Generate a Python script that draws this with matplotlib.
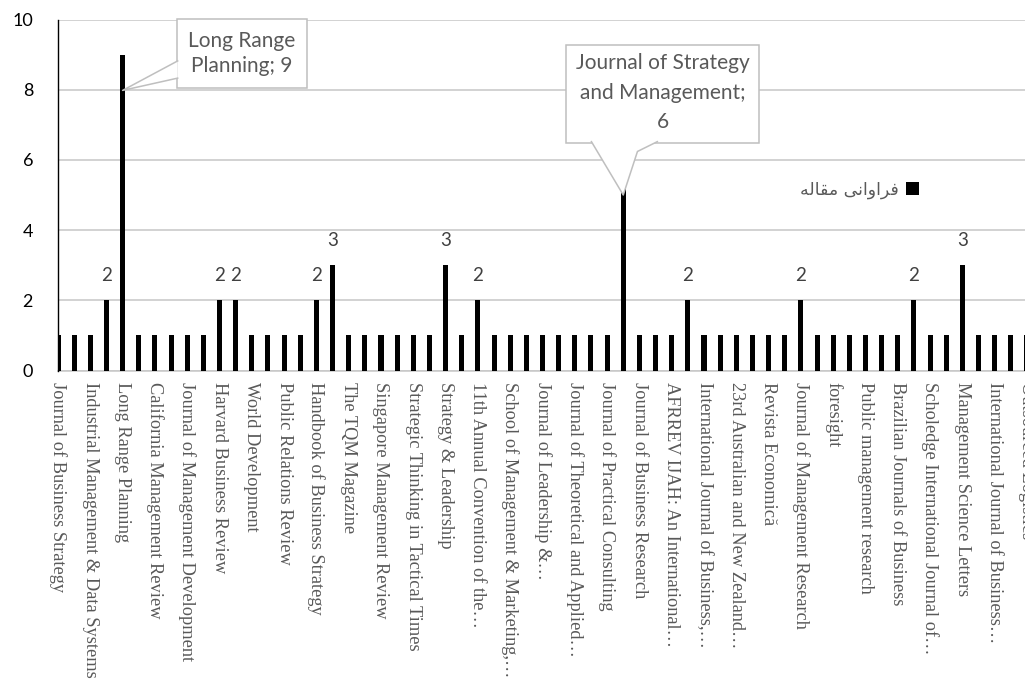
import matplotlib
matplotlib.use("Agg")
import matplotlib.pyplot as plt
from matplotlib.patches import Rectangle, Polygon
from matplotlib.lines import Line2D

# ---------------- data ----------------
values = [1, 1, 1, 2, 9, 1, 1, 1, 1, 1,
          2, 2, 1, 1, 1, 1, 2, 3, 1, 1,
          1, 1, 1, 1, 3, 1, 2, 1, 1, 1,
          1, 1, 1, 1, 1, 6, 1, 1, 1, 2,
          1, 1, 1, 1, 1, 1, 2, 1, 1, 1,
          1, 1, 1, 2, 1, 1, 3, 1, 1, 1,
          1]

# every other category is labelled on the axis
tick_labels = [
    "Journal of Business Strategy",
    "Industrial Management & Data Systems",
    "Long Range Planning",
    "California Management Review",
    "Journal of Management Development",
    "Harvard Business Review",
    "World Development",
    "Public Relations Review",
    "Handbook of Business Strategy",
    "The TQM Magazine",
    "Singapore Management Review",
    "Strategic Thinking in Tactical Times",
    "Strategy & Leadership",
    "11th Annual Convention of the\u2026",
    "School of Management & Marketing,\u2026",
    "Journal of Leadership &\u2026",
    "Journal of Theoretical and Applied\u2026",
    "Journal of Practical Consulting",
    "Journal of Business Research",
    "AFRREV IJAH: An International\u2026",
    "International Journal of Business,\u2026",
    "23rd Australian and New Zealand\u2026",
    "Revista Economic\u0103",
    "Journal of Management Research",
    "foresight",
    "Public management research",
    "Brazilian Journals of Business",
    "Scholedge International Journal of\u2026",
    "Management Science Letters",
    "International Journal of Business\u2026",
    "Outsourced Logistics",
]

callout_texts = ["Long Range\nPlanning; 9", "Journal of Strategy\nand Management;\n6"]
callout_index = [4, 35]

# "فراوانی مقاله" written in Arabic presentation forms, visual order
series_name = "\uFEEA\uFEDF\uFE8E\uFED8\uFEE3 \uFBFD\uFEE7\uFE8D\uFEED\uFE8D\uFEAE\uFED3"

# ---------------- figure ----------------
W, H = 1025, 681
fig = plt.figure(figsize=(W / 100, H / 100), dpi=100)
ax = fig.add_axes([58 / W, (H - 370.5) / H, 969 / W, 351 / H])

x = list(range(len(values)))
bars = ax.bar(x, values, width=0.31, color="black", zorder=3)

ax.set_xlim(0, len(values) - 1)
ax.set_ylim(0, 10)
ax.set_yticks(range(0, 11, 2))
ax.yaxis.grid(True, color="#c6c6c6", linewidth=1.1, zorder=0)
ax.set_axisbelow(True)

for s in ["top", "right"]:
    ax.spines[s].set_visible(False)
ax.spines["left"].set_color("black")
ax.spines["left"].set_linewidth(1.0)
ax.spines["left"].set_zorder(4)
ax.spines["bottom"].set_color("#c6c6c6")
ax.spines["bottom"].set_linewidth(1.1)

ax.tick_params(axis="y", length=0, pad=18, labelsize=13, labelcolor="black")
for t in ax.get_yticklabels():
    t.set_family("Lato")

ax.set_xticks(x[::2])
ax.set_xticklabels(tick_labels, rotation=-90, family="Liberation Serif",
                   fontsize=13.2, color="#595959", va="top", ha="center")
ax.tick_params(axis="x", length=0, pad=8)

# data labels on the 2s and 3s
for i, v in enumerate(values):
    if v in (2, 3):
        ax.annotate(str(v), (i, v), xytext=(0, 18), textcoords="offset points",
                    ha="center", va="center", fontsize=13.5, family="Lato",
                    color="#404040", zorder=6)

# callouts (boxes with pointers), positioned relative to their bars
edge = "#bfbfbf"
# Long Range Planning callout
i0 = callout_index[0]
bx0, bx1, by0, by1 = i0 + 3.36, i0 + 11.4, 8.05, 10.0
ax.add_patch(Rectangle((bx0, by0), bx1 - bx0, by1 - by0, facecolor="white",
                       edgecolor=edge, linewidth=1.1, zorder=7, clip_on=False))
ptr = [(bx0 + 0.05, 8.82), (i0, values[i0] - 1.02), (bx0 + 0.05, 8.33)]
ax.add_patch(Polygon(ptr, closed=True, facecolor="white", edgecolor="none", zorder=8))
ax.add_line(Line2D([p[0] for p in ptr], [p[1] for p in ptr], color=edge,
                   linewidth=1.1, zorder=9))
ax.text((bx0 + bx1) / 2, (by0 + by1) / 2, callout_texts[0], ha="center",
        va="center", fontsize=15, family="Lato", color="#595959", zorder=10,
        linespacing=1.3)

# Journal of Strategy and Management callout
i1 = callout_index[1]
cx0, cx1, cy0, cy1 = i1 - 3.52, i1 + 8.42, 6.49, 9.27
ax.add_patch(Rectangle((cx0, cy0), cx1 - cx0, cy1 - cy0, facecolor="white",
                       edgecolor=edge, linewidth=1.1, zorder=7, clip_on=False))
ptr2 = [(i1 - 1.97, cy0 + 0.03), (i1, values[i1] - 1.0),
        (i1 + 0.88, 6.24), (i1 + 2.11, cy0 + 0.03)]
ax.add_patch(Polygon(ptr2, closed=True, facecolor="white", edgecolor="none", zorder=8))
ax.add_line(Line2D([p[0] for p in ptr2], [p[1] for p in ptr2], color=edge,
                   linewidth=1.1, zorder=9))
ax.text((cx0 + cx1) / 2, (cy0 + cy1) / 2 + 0.03, callout_texts[1], ha="center",
        va="center", fontsize=15, family="Lato", color="#595959", zorder=10,
        linespacing=1.6)

# legend: key on the right of the (RTL) text
leg = ax.legend([bars], [series_name], loc="center right",
                bbox_to_anchor=((919 - 58) / 969, (370.5 - 190) / 351),
                frameon=False, markerfirst=False, handlelength=0.75,
                handleheight=0.75, handletextpad=0.4, borderpad=0,
                borderaxespad=0, prop={"family": "DejaVu Sans", "size": 12.5})
for t in leg.get_texts():
    t.set_color("#595959")
leg.set_zorder(10)

fig.savefig("out.png", dpi=100)
